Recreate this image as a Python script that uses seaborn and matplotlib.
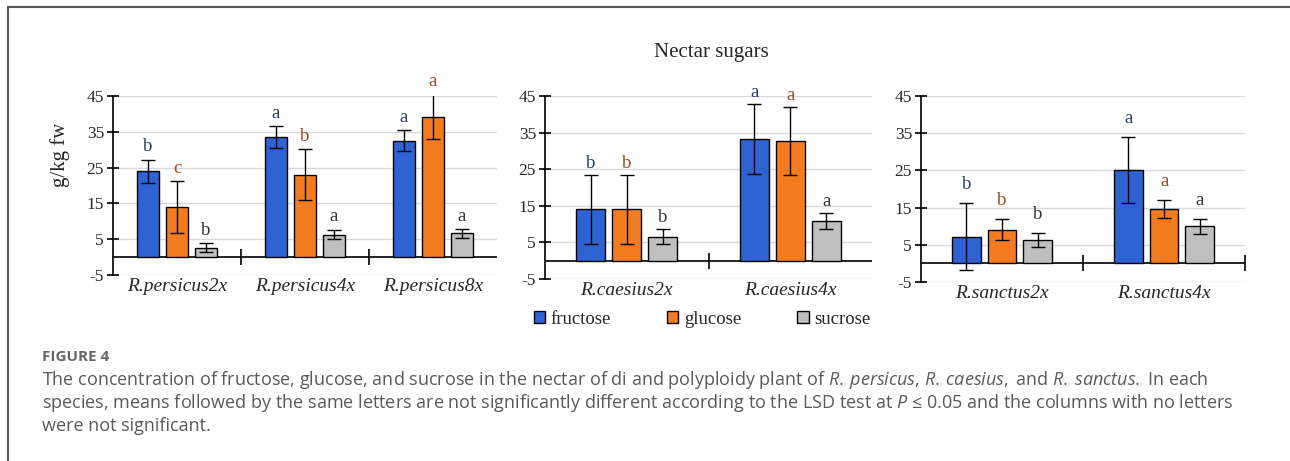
import numpy as np
import pandas as pd
import seaborn as sns
import matplotlib.pyplot as plt
from matplotlib.lines import Line2D
from matplotlib.patches import Patch

# data (g/kg fw), order: fructose, glucose, sucrose
sugars = ['fructose', 'glucose', 'sucrose']
sugar_colors = ['#2f62d3', '#f47c20', '#bfbfbf']
letter_colors = ['#2b3a6b', '#9a4a1c', '#333333']

persicus_labels = ['R.persicus2x', 'R.persicus4x', 'R.persicus8x']
persicus_means = [[24.0, 33.5, 32.5], [14.0, 23.0, 39.2], [2.6, 6.3, 6.6]]
persicus_errs = [[3.2, 3.0, 2.9], [7.2, 7.1, 6.3], [1.3, 1.3, 1.2]]
persicus_letters = [['b', 'a', 'a'], ['c', 'b', 'a'], ['b', 'a', 'a']]

caesius_labels = ['R.caesius2x', 'R.caesius4x']
caesius_means = [[14.0, 33.2], [14.0, 32.7], [6.6, 10.8]]
caesius_errs = [[9.4, 9.6], [9.4, 9.2], [2.1, 2.2]]
caesius_letters = [['b', 'a'], ['b', 'a'], ['b', 'a']]

sanctus_labels = ['R.sanctus2x', 'R.sanctus4x']
sanctus_means = [[7.2, 25.1], [9.0, 14.6], [6.3, 10.0]]
sanctus_errs = [[9.0, 8.8], [2.8, 2.5], [1.8, 2.0]]
sanctus_letters = [['b', 'a'], ['b', 'a'], ['b', 'a']]

panels = [
    (persicus_labels, persicus_means, persicus_errs, persicus_letters),
    (caesius_labels, caesius_means, caesius_errs, caesius_letters),
    (sanctus_labels, sanctus_means, sanctus_errs, sanctus_letters),
]
rects = [[0.0876, 0.4035, 0.2977, 0.3883],
         [0.4225, 0.3948, 0.2535, 0.3970],
         [0.7140, 0.3883, 0.2512, 0.4035]]
group_widths = [0.68, 0.66, 0.66]
gaps = [0.24, 0.2, 0.2]
letter_offsets = [3.6, 3.2, 5.0]

sns.set_theme(style='white')
plt.rcParams['font.family'] = ['Liberation Serif', 'DejaVu Serif']
plt.rcParams['axes.unicode_minus'] = False
plt.rcParams['mathtext.fontset'] = 'custom'
plt.rcParams['mathtext.rm'] = 'Open Sans'
plt.rcParams['mathtext.it'] = 'Open Sans:italic'

fig = plt.figure(figsize=(12.9, 4.61), dpi=100)

for pi, (labels, means, errs, letters) in enumerate(panels):
    ax = fig.add_axes(rects[pi])
    rows = []
    for si, s in enumerate(sugars):
        for ci, c in enumerate(labels):
            rows.append({'group': c, 'sugar': s, 'value': means[si][ci]})
    df = pd.DataFrame(rows)
    sns.barplot(data=df, x='group', y='value', hue='sugar', hue_order=sugars,
                order=labels, palette=sugar_colors, saturation=1,
                width=group_widths[pi], gap=gaps[pi], edgecolor='black',
                linewidth=1, errorbar=None, legend=False, ax=ax, zorder=3)

    bars = sorted(ax.patches, key=lambda p: p.get_x())
    for ci in range(len(labels)):
        for si in range(len(sugars)):
            p = bars[ci * len(sugars) + si]
            x = p.get_x() + p.get_width() / 2
            h = p.get_height()
            e = errs[si][ci]
            ax.errorbar(x, h, yerr=e, fmt='none', ecolor='black',
                        elinewidth=1, capsize=5, capthick=1, zorder=4)
            ax.text(x, h + e + letter_offsets[pi], letters[si][ci],
                    ha='center', va='center', fontsize=13.5,
                    color=letter_colors[si])

    n = len(labels)
    ax.set_xlim(-0.5, n - 0.5)
    ax.set_ylim(-5, 45)
    ax.set_yticks(np.arange(-5, 46, 10))
    ax.yaxis.grid(True, color='#d9d9d9', lw=1)
    ax.set_axisbelow(True)
    ax.axhline(0, color='black', lw=1.2, zorder=2)
    bounds = list(np.arange(0.5, n - 0.5, 1.0))
    if pi == 2:
        bounds.append(n - 0.5)
    ax.plot(bounds, [0] * len(bounds), ls='none', marker='|', ms=12,
            mew=1.2, color='black', clip_on=False, zorder=2)

    for side in ['top', 'right', 'bottom']:
        ax.spines[side].set_visible(False)
    ax.spines['left'].set_color('black')
    ax.spines['left'].set_linewidth(1.2)
    ax.tick_params(axis='y', direction='inout', length=9, width=1.2,
                   color='black', labelsize=12.5, left=True, pad=2)
    ax.tick_params(axis='x', length=0, labelsize=14, pad=2)
    for lbl in ax.get_xticklabels():
        lbl.set_fontstyle('italic')
    ax.set_xlabel('')
    ax.set_ylabel('')

fig.text(60 / 1290, 1 - 155 / 461, 'g/kg fw', rotation=90, ha='center',
         va='center', fontsize=15)
fig.text(711 / 1290, 1 - 52 / 461, 'Nectar sugars', ha='center',
         va='center', fontsize=15)

handles = [Patch(facecolor=c, edgecolor='black', linewidth=1) for c in sugar_colors]
fig.legend(handles, sugars, loc='center', bbox_to_anchor=(702 / 1290, 1 - 319 / 461),
           ncol=3, frameon=False, handlelength=0.6, handleheight=0.6,
           handletextpad=0.3, columnspacing=3.0, fontsize=13.5)

# caption
cap_font = ['Open Sans', 'DejaVu Sans']
fig.text(42 / 1290, 1 - 357 / 461, 'FIGURE 4', fontsize=11, weight='bold',
         color='#666666', family=cap_font, va='center')
cap_lines = [
    r"The concentration of fructose, glucose, and sucrose in the nectar of di and polyploidy plant of "
    r"$\mathit{R.\:persicus}$, $\mathit{R.\:caesius,}$ and $\mathit{R.\:sanctus.}$ In each",
    r"species, means followed by the same letters are not significantly different according to the LSD test at "
    r"$\mathit{P}$ ≤ 0.05 and the columns with no letters",
    "were not significant.",
]
for i, line in enumerate(cap_lines):
    fig.text(42 / 1290, 1 - (380 + 23 * i) / 461, line, fontsize=13,
             color='#595959', family=cap_font, va='center')

# frame lines of the figure panel
fig.add_artist(Line2D([8 / 1290, 8 / 1290], [0, 1 - 7 / 461],
                      transform=fig.transFigure, color='#555555', lw=1.5))
fig.add_artist(Line2D([8 / 1290, 1], [1 - 7 / 461, 1 - 7 / 461],
                      transform=fig.transFigure, color='#555555', lw=1.5))

fig.savefig('out.png', dpi=100)
